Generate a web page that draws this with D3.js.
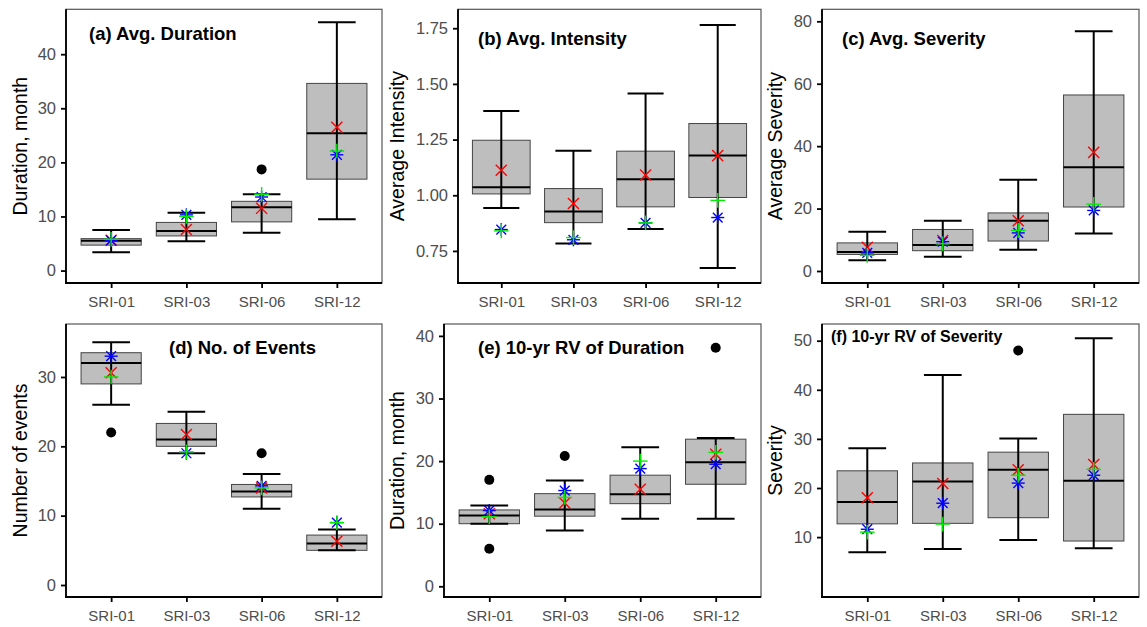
<!DOCTYPE html>
<html>
<head>
<meta charset="utf-8">
<script src="https://cdn.jsdelivr.net/npm/d3@7"></script>
<style>
  body { margin: 0; background: #fff; }
  svg { display: block; font-family: Arial, "Liberation Sans", sans-serif; }
  .tick-label { fill: #4d4d4d; font-size: 15px; }
  .y-tick .tick-label { font-size: 16.5px; }
  .axis-title { fill: #000; font-size: 19.5px; }
  .panel-title { fill: #000; font-weight: bold; }
</style>
</head>
<body>
<svg id="chart" width="1147" height="627"></svg>
<script>
const categories = ["SRI-01", "SRI-03", "SRI-06", "SRI-12"];

// box rows: [lower whisker, q1, median, q3, upper whisker]
// (a) average duration
const avgDurBox = [[3.4, 4.7, 5.5, 5.9, 7.5], [5.4, 6.4, 7.3, 8.9, 10.7], [7.0, 9.0, 11.7, 12.8, 14.1], [9.5, 16.9, 25.4, 34.6, 45.9]];
const avgDurOut = [[], [], [18.7], []];
const avgDurCross = [5.6, 7.6, 11.5, 26.5];
const avgDurPlus = [5.8, 10.0, 14.1, 22.1];
const avgDurStar = [5.6, 10.3, 13.6, 21.4];

// (b) average intensity
const avgIntBox = [[0.943, 1.006, 1.036, 1.247, 1.378], [0.783, 0.877, 0.927, 1.03, 1.2], [0.849, 0.948, 1.072, 1.198, 1.457], [0.673, 0.99, 1.178, 1.322, 1.765]];
const avgIntOut = [[], [], [], []];
const avgIntCross = [1.112, 0.963, 1.091, 1.178];
const avgIntPlus = [0.84, 0.81, 0.876, 0.977];
const avgIntStar = [0.846, 0.80, 0.876, 0.90];

// (c) average severity
const avgSevBox = [[3.4, 5.3, 6.1, 9.0, 12.6], [4.6, 6.5, 8.3, 13.3, 16.1], [6.8, 9.6, 16.1, 18.6, 29.2], [12.0, 20.5, 33.2, 56.4, 76.8]];
const avgSevOut = [[], [], [], []];
const avgSevCross = [7.6, 9.8, 16.1, 38.0];
const avgSevPlus = [5.0, 8.7, 13.0, 21.4];
const avgSevStar = [5.8, 9.4, 12.2, 19.4];

// (d) number of events
const nEventsBox = [[26, 29, 32, 33.5, 35], [19, 20, 21, 23.3, 25], [11, 12.7, 13.5, 14.5, 16], [5, 5, 6, 7.2, 8]];
const nEventsOut = [[22], [], [19], []];
const nEventsCross = [30.6, 21.7, 14.0, 6.3];
const nEventsPlus = [30.0, 19.2, 14.0, 9.0];
const nEventsStar = [33.0, 19.0, 14.3, 9.0];

// (e) 10-yr return value of duration
const rvDurBox = [[10.0, 10.0, 11.3, 12.2, 12.9], [8.9, 11.2, 12.25, 14.8, 16.9], [10.8, 13.2, 14.7, 17.75, 22.2], [10.8, 16.3, 19.8, 23.5, 23.7]];
const rvDurOut = [[17.0, 6.0], [20.8], [], [38.1]];
const rvDurCross = [11.6, 13.3, 15.5, 21.1];
const rvDurPlus = [11.1, 14.2, 20.0, 21.4];
const rvDurStar = [12.1, 15.3, 18.8, 19.5];

// (f) 10-yr return value of severity
const rvSevBox = [[6.9, 12.7, 17.15, 23.5, 28.1], [7.6, 12.8, 21.3, 25.1, 43.0], [9.4, 13.95, 23.7, 27.3, 30.1], [7.75, 9.2, 21.5, 35.0, 50.5]];
const rvSevOut = [[], [], [48.0], []];
const rvSevCross = [18.0, 20.9, 23.7, 24.8];
const rvSevPlus = [11.0, 12.65, 22.6, 23.8];
const rvSevStar = [11.6, 16.9, 21.0, 22.6];

const panels = [
  {box: avgDurBox, out: avgDurOut, cross: avgDurCross, plus: avgDurPlus, star: avgDurStar,
   title: "(a) Avg. Duration", ytitle: "Duration, month", domain: [-2.3, 48.3], ticks: [0, 10, 20, 30, 40], fmt: d3.format("d"),
   col: 0, left: 66, right: 382, top: 9.3, bottom: 283, tx: 23, ty: 31, tsize: 18.5},
  {box: avgIntBox, out: avgIntOut, cross: avgIntCross, plus: avgIntPlus, star: avgIntStar,
   title: "(b) Avg. Intensity", ytitle: "Average Intensity", domain: [0.606, 1.835], ticks: [0.75, 1, 1.25, 1.5, 1.75], fmt: d3.format(".2f"),
   col: 377, left: 458, right: 761, top: 9.3, bottom: 283, tx: 20, ty: 36, tsize: 18.5},
  {box: avgSevBox, out: avgSevOut, cross: avgSevCross, plus: avgSevPlus, star: avgSevStar,
   title: "(c) Avg. Severity", ytitle: "Average Severity", domain: [-3.85, 83.85], ticks: [0, 20, 40, 60, 80], fmt: d3.format("d"),
   col: 755, left: 822, right: 1139, top: 9.3, bottom: 283, tx: 20, ty: 36, tsize: 18.5},
  {box: nEventsBox, out: nEventsOut, cross: nEventsCross, plus: nEventsPlus, star: nEventsStar,
   title: "(d) No. of Events", ytitle: "Number of events", domain: [-1.73, 37.64], ticks: [0, 10, 20, 30], fmt: d3.format("d"),
   col: 0, left: 66, right: 382, top: 324, bottom: 597, tx: 103, ty: 30, tsize: 18.5},
  {box: rvDurBox, out: rvDurOut, cross: rvDurCross, plus: rvDurPlus, star: rvDurStar,
   title: "(e) 10-yr RV of Duration", ytitle: "Duration, month", domain: [-1.71, 41.9], ticks: [0, 10, 20, 30, 40], fmt: d3.format("d"),
   col: 377, left: 444, right: 761, top: 324, bottom: 597, tx: 34, ty: 30, tsize: 18.5},
  {box: rvSevBox, out: rvSevOut, cross: rvSevCross, plus: rvSevPlus, star: rvSevStar,
   title: "(f) 10-yr RV of Severity", ytitle: "Severity", domain: [-2.2, 53.4], ticks: [10, 20, 30, 40, 50], fmt: d3.format("d"),
   col: 755, left: 822, right: 1139, top: 324, bottom: 597, tx: 9, ty: 18, tsize: 16}
];

const svg = d3.select("#chart");

function drawPanel(p){
  const g = svg.append("g");

  const x = d3.scalePoint().domain(categories).range([p.left, p.right]).padding(0.6);
  const y = d3.scaleLinear().domain(p.domain).range([p.bottom, p.top]);
  const step = x.step();
  const boxw = step * 0.8;
  const capw = step * 0.5;

  // panel frame
  g.append("rect")
    .attr("x", p.left).attr("y", p.top)
    .attr("width", p.right - p.left).attr("height", p.bottom - p.top)
    .attr("fill", "none").attr("stroke", "#555").attr("stroke-width", 1.2);

  // axes
  const yAxis = g.append("g")
    .attr("class", "y-tick")
    .attr("transform", "translate(" + p.left + ",0)")
    .call(d3.axisLeft(y).tickValues(p.ticks).tickFormat(p.fmt).tickSize(5).tickPadding(5));
  const xAxis = g.append("g")
    .attr("transform", "translate(0," + p.bottom + ")")
    .call(d3.axisBottom(x).tickSize(5).tickPadding(8));
  [yAxis, xAxis].forEach(a => {
    a.select(".domain").remove();
    a.selectAll(".tick line").attr("stroke", "#000").attr("stroke-width", 1.8);
    a.selectAll(".tick text").attr("class", "tick-label").attr("font-family", null).attr("font-size", null);
  });
  g.append("line").attr("x1", p.left).attr("x2", p.left).attr("y1", p.top).attr("y2", p.bottom + 0.9)
    .attr("stroke", "#000").attr("stroke-width", 1.8);
  g.append("line").attr("x1", p.left - 0.9).attr("x2", p.right).attr("y1", p.bottom).attr("y2", p.bottom)
    .attr("stroke", "#000").attr("stroke-width", 1.8);

  // boxes
  const rows = categories.map((c, i) => ({cat: c, s: p.box[i], out: p.out[i],
    cross: p.cross[i], plus: p.plus[i], star: p.star[i]}));

  const b = g.selectAll(".box").data(rows).enter().append("g");

  b.append("rect")
    .attr("x", d => x(d.cat) - boxw / 2)
    .attr("y", d => y(d.s[3]))
    .attr("width", boxw)
    .attr("height", d => y(d.s[1]) - y(d.s[3]))
    .attr("fill", "#bebebe").attr("stroke", "#444").attr("stroke-width", 1);

  b.append("line")
    .attr("x1", d => x(d.cat) - boxw / 2).attr("x2", d => x(d.cat) + boxw / 2)
    .attr("y1", d => y(d.s[2])).attr("y2", d => y(d.s[2]))
    .attr("stroke", "#000").attr("stroke-width", 2);

  // whiskers
  b.append("line")
    .attr("x1", d => x(d.cat)).attr("x2", d => x(d.cat))
    .attr("y1", d => y(d.s[0])).attr("y2", d => y(d.s[4]))
    .attr("stroke", "#000").attr("stroke-width", 2);
  [0, 4].forEach(k => {
    b.append("line")
      .attr("x1", d => x(d.cat) - capw / 2).attr("x2", d => x(d.cat) + capw / 2)
      .attr("y1", d => y(d.s[k])).attr("y2", d => y(d.s[k]))
      .attr("stroke", "#000").attr("stroke-width", 2);
  });

  // outliers
  b.selectAll(".out").data(d => d.out.map(v => ({cat: d.cat, v: v}))).enter()
    .append("circle")
    .attr("cx", d => x(d.cat)).attr("cy", d => y(d.v)).attr("r", 5)
    .attr("fill", "#000");

  // markers
  const r = 6.5;
  const cross = b.append("g").attr("transform", d => "translate(" + x(d.cat) + "," + y(d.cross) + ")")
    .attr("stroke", "#ff0000").attr("stroke-width", 1.4);
  cross.append("line").attr("x1", -r * 0.85).attr("y1", -r * 0.85).attr("x2", r * 0.85).attr("y2", r * 0.85);
  cross.append("line").attr("x1", -r * 0.85).attr("y1", r * 0.85).attr("x2", r * 0.85).attr("y2", -r * 0.85);

  const star = b.append("g").attr("transform", d => "translate(" + x(d.cat) + "," + y(d.star) + ")")
    .attr("stroke", "#0000ff").attr("stroke-width", 1.4);
  star.append("line").attr("x1", -r).attr("y1", 0).attr("x2", r).attr("y2", 0);
  star.append("line").attr("x1", 0).attr("y1", -r).attr("x2", 0).attr("y2", r);
  star.append("line").attr("x1", -r * 0.75).attr("y1", -r * 0.75).attr("x2", r * 0.75).attr("y2", r * 0.75);
  star.append("line").attr("x1", -r * 0.75).attr("y1", r * 0.75).attr("x2", r * 0.75).attr("y2", -r * 0.75);

  const plus = b.append("g").attr("transform", d => "translate(" + x(d.cat) + "," + y(d.plus) + ")")
    .attr("stroke", "#00ee00").attr("stroke-width", 1.4);
  plus.append("line").attr("x1", -r - 0.8).attr("y1", 0).attr("x2", r + 0.8).attr("y2", 0);
  plus.append("line").attr("x1", 0).attr("y1", -r - 0.8).attr("x2", 0).attr("y2", r + 0.8);

  // titles
  g.append("text")
    .attr("class", "panel-title")
    .attr("x", p.left + p.tx).attr("y", p.top + p.ty)
    .attr("font-size", p.tsize)
    .text(p.title);

  g.append("text")
    .attr("class", "axis-title")
    .attr("transform", "translate(" + (p.col + 20) + "," + ((p.top + p.bottom) / 2) + ") rotate(-90)")
    .attr("text-anchor", "middle")
    .attr("dominant-baseline", "central")
    .text(p.ytitle);
}

panels.forEach(drawPanel);
</script>
</body>
</html>
